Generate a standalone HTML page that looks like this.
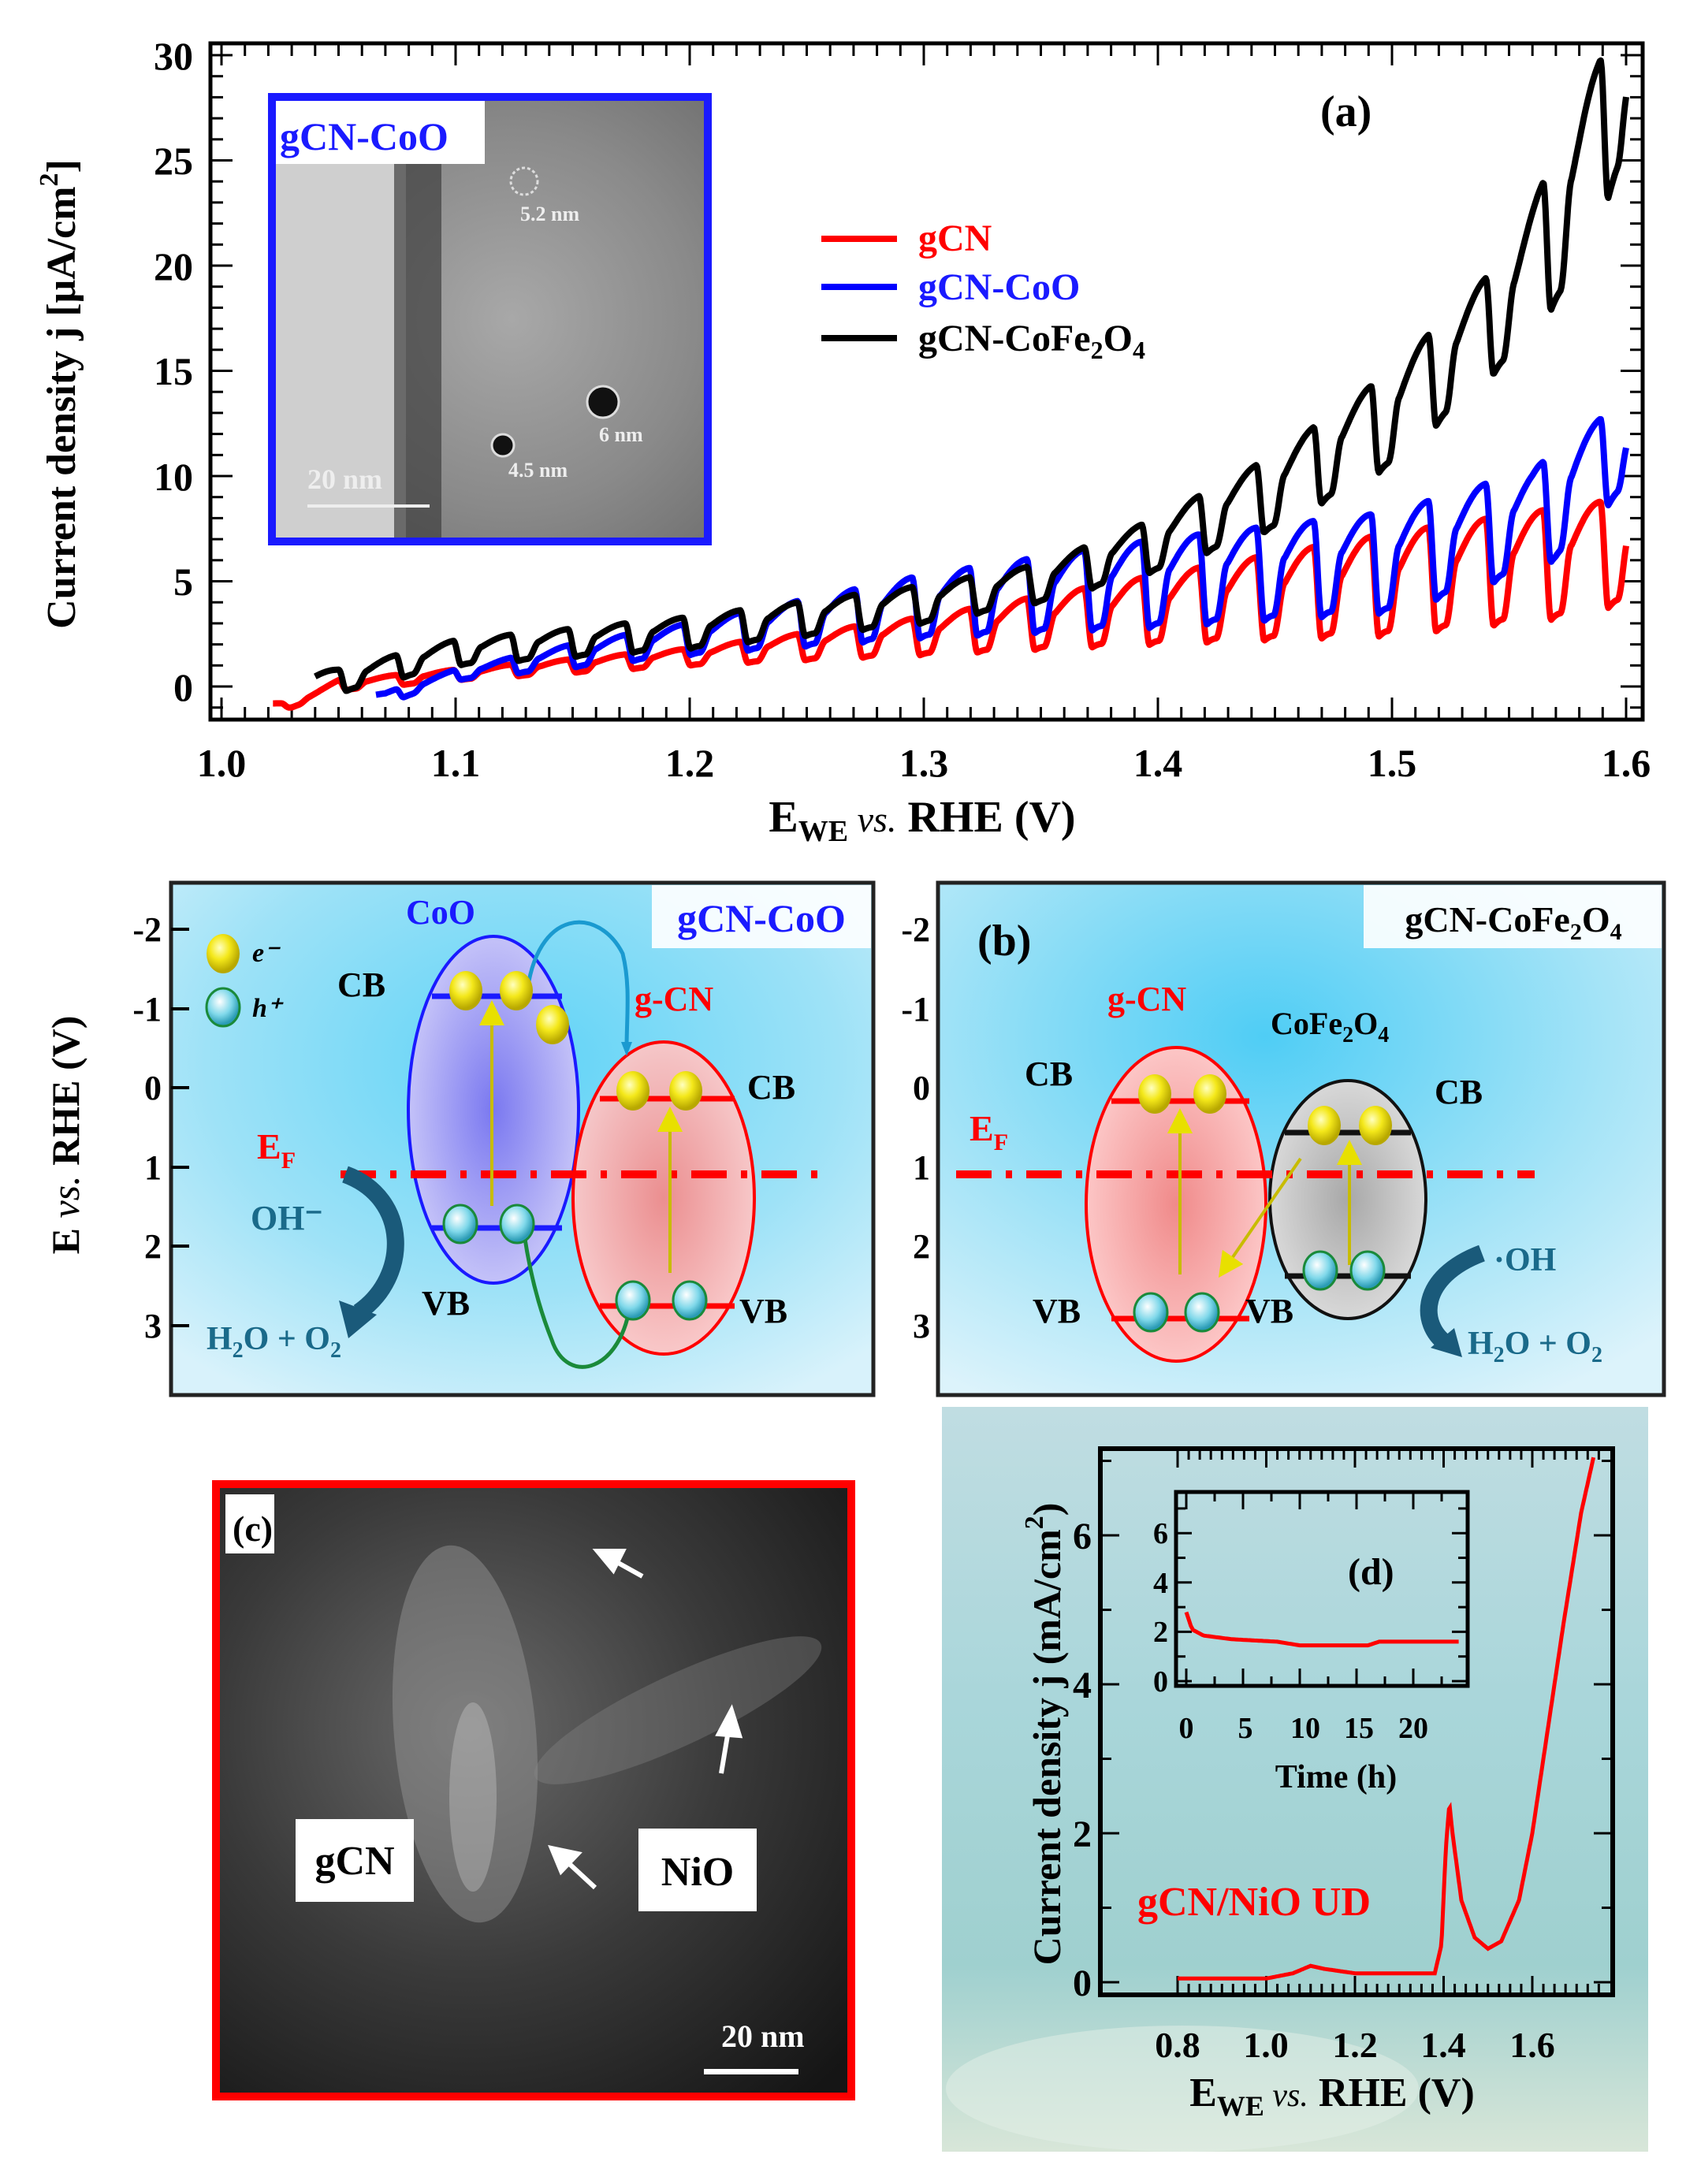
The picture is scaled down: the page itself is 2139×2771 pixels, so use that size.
<!DOCTYPE html>
<html><head><meta charset="utf-8"><style>
html,body{margin:0;padding:0;background:#fff}
svg{display:block}
text{font-family:"Liberation Serif",serif;font-weight:bold}
</style></head><body>
<svg id="s" width="2139" height="2771" viewBox="0 0 2139 2771" xmlns="http://www.w3.org/2000/svg">
<defs>
<radialGradient id="bg1" cx="0.5" cy="0.35" r="0.75"><stop offset="0" stop-color="#5fd3f7"/><stop offset="0.6" stop-color="#9ee2f7"/><stop offset="1" stop-color="#d8f2fb"/></radialGradient>
<radialGradient id="bg2" cx="0.45" cy="0.3" r="0.8"><stop offset="0" stop-color="#4fcdf5"/><stop offset="0.6" stop-color="#a6e4f7"/><stop offset="1" stop-color="#dcf3fb"/></radialGradient>
<radialGradient id="ellB" cx="0.5" cy="0.5" r="0.5"><stop offset="0" stop-color="#7a78f0"/><stop offset="1" stop-color="#c4c2f8"/></radialGradient>
<radialGradient id="ellR" cx="0.5" cy="0.5" r="0.5"><stop offset="0" stop-color="#f08a8a"/><stop offset="1" stop-color="#fcc6c6"/></radialGradient>
<radialGradient id="ellG" cx="0.5" cy="0.5" r="0.5"><stop offset="0" stop-color="#a8a8a8"/><stop offset="1" stop-color="#d8d8d8"/></radialGradient>
<radialGradient id="ball" cx="0.4" cy="0.35" r="0.6"><stop offset="0" stop-color="#ffffc0"/><stop offset="0.5" stop-color="#f4e81a"/><stop offset="1" stop-color="#b8a800"/></radialGradient>
<radialGradient id="hole" cx="0.4" cy="0.35" r="0.6"><stop offset="0" stop-color="#ffffff"/><stop offset="0.6" stop-color="#7fd8ea"/><stop offset="1" stop-color="#2a9bb5"/></radialGradient>
<radialGradient id="tem" cx="0.55" cy="0.5" r="0.7"><stop offset="0" stop-color="#a8a8a8"/><stop offset="0.6" stop-color="#8a8a8a"/><stop offset="1" stop-color="#707070"/></radialGradient>
<radialGradient id="stem" cx="0.4" cy="0.4" r="0.8"><stop offset="0" stop-color="#6a6a6a"/><stop offset="0.5" stop-color="#3a3a3a"/><stop offset="1" stop-color="#151515"/></radialGradient>
<linearGradient id="water" x1="0" y1="0" x2="0" y2="1"><stop offset="0" stop-color="#c0dde2"/><stop offset="0.4" stop-color="#a9d6da"/><stop offset="0.75" stop-color="#9fd0cf"/><stop offset="1" stop-color="#d8e6d8"/></linearGradient>
<marker id="ay" markerWidth="8" markerHeight="8" refX="4" refY="4" orient="auto"><path d="M0,0 L8,4 L0,8z" fill="#e8e000"/></marker>
</defs>

<g id="pa">
<rect x="345" y="123" width="553" height="564" fill="url(#tem)"/>
<rect x="345" y="123" width="170" height="564" fill="#cfcfcf"/>
<rect x="500" y="123" width="60" height="564" fill="#3e3e3e" opacity="0.7"/>
<rect x="345" y="123" width="553" height="564" fill="none" stroke="#1a1aff" stroke-width="10"/>
<rect x="350" y="128" width="265" height="80" fill="#fff"/>
<text x="355" y="190" font-size="50" fill="#1a1aff" font-weight="bold">gCN-CoO</text>
<circle cx="665" cy="230" r="17" fill="none" stroke="#ddd" stroke-width="3" stroke-dasharray="4 3"/>
<text x="660" y="280" font-size="26" fill="#eee" font-family="Liberation Sans">5.2 nm</text>
<circle cx="765" cy="510" r="20" fill="#111" stroke="#ddd" stroke-width="3"/>
<text x="760" y="560" font-size="26" fill="#eee" font-family="Liberation Sans">6 nm</text>
<circle cx="638" cy="565" r="14" fill="#111" stroke="#ddd" stroke-width="3"/>
<text x="645" y="605" font-size="26" fill="#eee" font-family="Liberation Sans">4.5 nm</text>
<text x="390" y="620" font-size="36" fill="#eee" font-family="Liberation Sans">20 nm</text>
<rect x="390" y="640" width="155" height="4" fill="#eee"/>

<rect x="267" y="55" width="1817" height="858" fill="none" stroke="#000" stroke-width="5"/>
<g id="aticks" stroke="#000" stroke-width="3"></g>
<g font-size="50" text-anchor="middle">
<text x="281" y="985">1.0</text><text x="578" y="985">1.1</text><text x="875" y="985">1.2</text><text x="1172" y="985">1.3</text><text x="1469" y="985">1.4</text><text x="1766" y="985">1.5</text><text x="2063" y="985">1.6</text>
</g>
<g font-size="50" text-anchor="end">
<text x="245" y="88">30</text><text x="245" y="221">25</text><text x="245" y="355">20</text><text x="245" y="488">15</text><text x="245" y="622">10</text><text x="245" y="755">5</text><text x="245" y="889">0</text>
</g>
<text x="1170" y="1055" font-size="56" text-anchor="middle">E<tspan font-size="38" dy="12">WE</tspan><tspan dy="-12" font-style="italic" font-weight="normal" font-size="46"> vs.</tspan> RHE (V)</text>
<text transform="translate(95,500) rotate(-90)" font-size="52" text-anchor="middle">Current density j [μA/cm<tspan font-size="34" dy="-22">2</tspan><tspan dy="22">]</tspan></text>
<text x="1675" y="160" font-size="56">(a)</text>
<line x1="1042" y1="303" x2="1138" y2="303" stroke="#f00" stroke-width="8"/>
<line x1="1042" y1="364" x2="1138" y2="364" stroke="#0000ff" stroke-width="8"/>
<line x1="1042" y1="429" x2="1138" y2="429" stroke="#000" stroke-width="8"/>
<text x="1165" y="318" font-size="48" fill="#f00">gCN</text>
<text x="1165" y="380" font-size="48" fill="#1a1aff">gCN-CoO</text>
<text x="1165" y="445" font-size="48" fill="#000">gCN-CoFe<tspan font-size="32" dy="10">2</tspan><tspan dy="-10">O</tspan><tspan font-size="32" dy="10">4</tspan></text>
<path id="cR" fill="none" stroke="#ff0000" stroke-width="8" stroke-linejoin="round"/>
<path id="cB" fill="none" stroke="#0000ff" stroke-width="8" stroke-linejoin="round"/>
<path id="cK" fill="none" stroke="#000" stroke-width="8" stroke-linejoin="round"/>
</g>

<rect x="217" y="1120" width="891" height="650" fill="url(#bg1)" stroke="#222" stroke-width="5"/>
<rect x="827" y="1123" width="278" height="80" fill="#fff" opacity="0.9"/>
<text x="966" y="1182" font-size="50" fill="#1a1aff" text-anchor="middle">gCN-CoO</text>
<g stroke="#000" stroke-width="4">
<line x1="217" y1="1179" x2="240" y2="1179"/><line x1="217" y1="1280" x2="240" y2="1280"/><line x1="217" y1="1380" x2="240" y2="1380"/><line x1="217" y1="1481" x2="240" y2="1481"/><line x1="217" y1="1581" x2="240" y2="1581"/><line x1="217" y1="1682" x2="240" y2="1682"/>
<line x1="1190" y1="1179" x2="1213" y2="1179"/><line x1="1190" y1="1280" x2="1213" y2="1280"/><line x1="1190" y1="1380" x2="1213" y2="1380"/><line x1="1190" y1="1481" x2="1213" y2="1481"/><line x1="1190" y1="1581" x2="1213" y2="1581"/><line x1="1190" y1="1682" x2="1213" y2="1682"/>
</g>
<g font-size="44" text-anchor="end">
<text x="205" y="1194">-2</text><text x="205" y="1295">-1</text><text x="205" y="1395">0</text><text x="205" y="1496">1</text><text x="205" y="1596">2</text><text x="205" y="1697">3</text>
<text x="1180" y="1194">-2</text><text x="1180" y="1295">-1</text><text x="1180" y="1395">0</text><text x="1180" y="1496">1</text><text x="1180" y="1596">2</text><text x="1180" y="1697">3</text>
</g>
<text transform="translate(100,1440) rotate(-90)" font-size="50" text-anchor="middle">E <tspan font-style="italic" font-weight="normal">vs.</tspan> RHE (V)</text>

<ellipse cx="626" cy="1408" rx="108" ry="220" fill="url(#ellB)" stroke="#1a1aff" stroke-width="4"/>
<ellipse cx="842" cy="1520" rx="115" ry="198" fill="url(#ellR)" fill-opacity="0.95" stroke="#f00" stroke-width="4"/>
<g stroke-width="7"><line x1="548" y1="1264" x2="713" y2="1264" stroke="#1a1aff"/><line x1="548" y1="1558" x2="713" y2="1558" stroke="#1a1aff"/>
<line x1="761" y1="1394" x2="932" y2="1394" stroke="#f00"/><line x1="761" y1="1657" x2="932" y2="1657" stroke="#f00"/></g>
<line x1="432" y1="1490" x2="1049" y2="1490" stroke="#f00" stroke-width="10" stroke-dasharray="45 18 8 18"/>
<line x1="624" y1="1530" x2="624" y2="1285" stroke="#c8bc00" stroke-width="4" marker-end="url(#ay)"/>
<line x1="850" y1="1615" x2="850" y2="1420" stroke="#c8bc00" stroke-width="4" marker-end="url(#ay)"/>
<path d="M668,1265 C680,1150 760,1150 790,1210 C800,1250 795,1290 795,1330" fill="none" stroke="#1a9ad0" stroke-width="5"/>
<path d="M788,1322 L795,1340 L802,1322z" fill="#1a9ad0"/>
<path d="M800,1650 C790,1740 720,1760 700,1700 C680,1650 670,1600 665,1565" fill="none" stroke="#1a8a3a" stroke-width="5"/>
<g fill="url(#ball)"><ellipse cx="591" cy="1257" rx="21" ry="25"/><ellipse cx="655" cy="1257" rx="21" ry="25"/><ellipse cx="701" cy="1300" rx="21" ry="25"/><ellipse cx="803" cy="1384" rx="21" ry="25"/><ellipse cx="870" cy="1384" rx="21" ry="25"/><ellipse cx="283" cy="1210" rx="21" ry="25"/></g>
<g fill="url(#hole)" stroke="#1a8a3a" stroke-width="3"><ellipse cx="584" cy="1553" rx="21" ry="24"/><ellipse cx="656" cy="1553" rx="21" ry="24"/><ellipse cx="803" cy="1650" rx="21" ry="24"/><ellipse cx="875" cy="1650" rx="21" ry="24"/><ellipse cx="283" cy="1278" rx="21" ry="24"/></g>
<text x="320" y="1220" font-size="34" font-style="italic">e⁻</text>
<text x="320" y="1290" font-size="34" font-style="italic">h⁺</text>
<text x="515" y="1172" font-size="44" fill="#1a1aff">CoO</text>
<text x="805" y="1282" font-size="44" fill="#f00">g-CN</text>
<text x="428" y="1264" font-size="44">CB</text>
<text x="948" y="1394" font-size="44">CB</text>
<text x="326" y="1470" font-size="46" fill="#f00">E<tspan font-size="30" dy="12">F</tspan></text>
<text x="318" y="1560" font-size="44" fill="#1a6a8a">OH⁻</text>
<text x="535" y="1668" font-size="44">VB</text>
<text x="938" y="1678" font-size="44">VB</text>
<text x="262" y="1712" font-size="42" fill="#1a6a8a">H<tspan font-size="28" dy="10">2</tspan><tspan dy="-10">O + O</tspan><tspan font-size="28" dy="10">2</tspan></text>
<path d="M438,1490 C520,1520 520,1620 455,1665" fill="none" stroke="#1a5a7a" stroke-width="22"/>
<path d="M430,1650 L442,1698 L478,1668z" fill="#1a5a7a"/>

<rect x="1190" y="1120" width="921" height="650" fill="url(#bg2)" stroke="#222" stroke-width="5"/>
<rect x="1730" y="1123" width="378" height="80" fill="#fff" opacity="0.9"/>
<text x="1920" y="1182" font-size="46" text-anchor="middle">gCN-CoFe<tspan font-size="30" dy="10">2</tspan><tspan dy="-10">O</tspan><tspan font-size="30" dy="10">4</tspan></text>
<text x="1240" y="1212" font-size="56">(b)</text>
<ellipse cx="1492" cy="1528" rx="114" ry="199" fill="url(#ellR)" stroke="#f00" stroke-width="4"/>
<ellipse cx="1710" cy="1522" rx="99" ry="151" fill="url(#ellG)" stroke="#111" stroke-width="4"/>
<g stroke-width="7"><line x1="1410" y1="1397" x2="1585" y2="1397" stroke="#f00"/><line x1="1410" y1="1673" x2="1585" y2="1673" stroke="#f00"/>
<line x1="1630" y1="1437" x2="1790" y2="1437" stroke="#111"/><line x1="1630" y1="1619" x2="1790" y2="1619" stroke="#111"/></g>
<line x1="1213" y1="1490" x2="1947" y2="1490" stroke="#f00" stroke-width="10" stroke-dasharray="45 18 8 18"/>
<line x1="1497" y1="1617" x2="1497" y2="1422" stroke="#c8bc00" stroke-width="4" marker-end="url(#ay)"/>
<line x1="1712" y1="1605" x2="1712" y2="1462" stroke="#c8bc00" stroke-width="4" marker-end="url(#ay)"/>
<line x1="1650" y1="1470" x2="1555" y2="1608" stroke="#c8bc00" stroke-width="4" marker-end="url(#ay)"/>
<g fill="url(#ball)"><ellipse cx="1465" cy="1388" rx="21" ry="25"/><ellipse cx="1535" cy="1388" rx="21" ry="25"/><ellipse cx="1680" cy="1428" rx="21" ry="25"/><ellipse cx="1745" cy="1428" rx="21" ry="25"/></g>
<g fill="url(#hole)" stroke="#1a8a3a" stroke-width="3"><ellipse cx="1460" cy="1665" rx="21" ry="24"/><ellipse cx="1525" cy="1665" rx="21" ry="24"/><ellipse cx="1675" cy="1612" rx="21" ry="24"/><ellipse cx="1735" cy="1612" rx="21" ry="24"/></g>
<text x="1405" y="1282" font-size="44" fill="#f00">g-CN</text>
<text x="1612" y="1312" font-size="40">CoFe<tspan font-size="28" dy="10">2</tspan><tspan dy="-10">O</tspan><tspan font-size="28" dy="10">4</tspan></text>
<text x="1300" y="1377" font-size="44">CB</text>
<text x="1820" y="1400" font-size="44">CB</text>
<text x="1230" y="1447" font-size="46" fill="#f00">E<tspan font-size="30" dy="12">F</tspan></text>
<text x="1310" y="1678" font-size="44">VB</text>
<text x="1580" y="1678" font-size="44">VB</text>
<text x="1895" y="1612" font-size="42" fill="#1a6a8a">·OH</text>
<text x="1862" y="1718" font-size="42" fill="#1a6a8a">H<tspan font-size="28" dy="10">2</tspan><tspan dy="-10">O + O</tspan><tspan font-size="28" dy="10">2</tspan></text>
<path d="M1880,1590 C1800,1620 1800,1680 1835,1705" fill="none" stroke="#1a5a7a" stroke-width="22"/>
<path d="M1815,1710 L1855,1722 L1845,1685z" fill="#1a5a7a"/>

<rect x="274" y="1883" width="806" height="777" fill="url(#stem)"/>
<ellipse cx="590" cy="2200" rx="90" ry="240" fill="#9a9a9a" opacity="0.45" transform="rotate(-5 590 2200)"/>
<ellipse cx="860" cy="2170" rx="200" ry="45" fill="#8a8a8a" opacity="0.35" transform="rotate(-25 860 2170)"/>
<ellipse cx="600" cy="2280" rx="30" ry="120" fill="#d0d0d0" opacity="0.35"/>
<rect x="274" y="1883" width="806" height="777" fill="none" stroke="#f00" stroke-width="10"/>
<rect x="286" y="1896" width="62" height="75" fill="#fff"/>
<text x="295" y="1955" font-size="46" font-weight="normal">(c)</text>
<rect x="375" y="2308" width="150" height="105" fill="#fff"/>
<text x="450" y="2378" font-size="52" font-weight="normal" text-anchor="middle">gCN</text>
<rect x="810" y="2320" width="150" height="105" fill="#fff"/>
<text x="885" y="2392" font-size="52" font-weight="normal" text-anchor="middle">NiO</text>
<g stroke="#fff" stroke-width="6" fill="#fff">
<line x1="815" y1="2000" x2="770" y2="1975"/><path d="M758,1968 L790,1968 L778,1992z"/>
<line x1="915" y1="2250" x2="925" y2="2190"/><path d="M928,2170 L912,2200 L938,2202z"/>
<line x1="755" y1="2395" x2="715" y2="2358"/><path d="M700,2345 L733,2352 L712,2374z"/>
</g>
<text x="915" y="2597" font-size="40" fill="#fff" font-family="Liberation Sans">20 nm</text>
<rect x="893" y="2625" width="120" height="7" fill="#fff"/>

<rect x="1195" y="1785" width="896" height="945" fill="url(#water)"/>
<ellipse cx="1500" cy="2650" rx="300" ry="80" fill="#e4f0e8" opacity="0.5"/>
<rect x="1396" y="1838" width="650" height="693" fill="none" stroke="#000" stroke-width="6"/>
<g id="dticks" stroke="#000" stroke-width="3"></g>
<g font-size="48" text-anchor="end"><text x="1385" y="2532">0</text><text x="1385" y="2343">2</text><text x="1385" y="2154">4</text><text x="1385" y="1965">6</text></g>
<g font-size="46" text-anchor="middle"><text x="1494" y="2610">0.8</text><text x="1606" y="2610">1.0</text><text x="1719" y="2610">1.2</text><text x="1831" y="2610">1.4</text><text x="1944" y="2610">1.6</text></g>
<text x="1690" y="2672" font-size="52" text-anchor="middle">E<tspan font-size="36" dy="12">WE</tspan><tspan dy="-12" font-style="italic" font-weight="normal" font-size="42"> vs.</tspan> RHE (V)</text>
<text transform="translate(1345,2200) rotate(-90)" font-size="50" text-anchor="middle">Current density j (mA/cm<tspan font-size="34" dy="-22">2</tspan><tspan dy="22">)</tspan></text>
<text x="1443" y="2430" font-size="52" fill="#f00">gCN/NiO UD</text>
<rect x="1492" y="1893" width="370" height="246" fill="none" stroke="#000" stroke-width="5"/>
<g id="iticks" stroke="#000" stroke-width="3"></g>
<g font-size="38" text-anchor="end"><text x="1482" y="2146">0</text><text x="1482" y="2083">2</text><text x="1482" y="2021">4</text><text x="1482" y="1958">6</text></g>
<g font-size="38" text-anchor="middle"><text x="1505" y="2205">0</text><text x="1580" y="2205">5</text><text x="1656" y="2205">10</text><text x="1724" y="2205">15</text><text x="1793" y="2205">20</text></g>
<text x="1695" y="2268" font-size="42" text-anchor="middle">Time (h)</text>
<text x="1710" y="2010" font-size="48">(d)</text>
<path id="cD" fill="none" stroke="#f00" stroke-width="5"/>
<path id="cI" fill="none" stroke="#f00" stroke-width="5"/>
</svg>
<script>
(function(){
function interp(a,x){if(x<=a[0][0])return a[0][1];for(var i=1;i<a.length;i++){if(x<=a[i][0]){var t=(x-a[i-1][0])/(a[i][0]-a[i-1][0]);return a[i-1][1]+t*(a[i][1]-a[i-1][1]);}}return a[a.length-1][1];}
function X(v){return 281+(v-1.0)*2970;}function Y(j){return 871-j*26.7;}
var T=0.0245,P0=1.5890;
function wave(v,hi,lo){var p=((v-P0)/T)%1;if(p<0)p+=1;var r=hi-lo;
 if(p<0.14){var t=p/0.14;return hi-r*(0.5-0.5*Math.cos(Math.PI*t));}
 if(p<0.3){var t=(p-0.14)/0.16;return lo+r*0.05*Math.sin(Math.PI*t*0.5);}
 if(p<0.5){var t=(p-0.3)/0.2;return lo+r*(0.05+0.6*(0.5-0.5*Math.cos(Math.PI*t)));}
 var t=(p-0.5)/0.5;return lo+r*(0.65+0.35*Math.sin(Math.PI*t*0.5));}
function curve(id,v0,v1,hi,lo){var d="";for(var v=v0;v<=v1+1e-9;v+=0.0004){var j=wave(v,interp(hi,v),interp(lo,v));d+=(d?"L":"M")+X(v).toFixed(1)+","+Y(j).toFixed(1);}document.getElementById(id).setAttribute("d",d);}
curve("cR",1.022,1.6,[[1.03,-0.8],[1.05,0.3],[1.1,0.8],[1.2,1.8],[1.3,3.3],[1.4,5.3],[1.5,7.3],[1.59,8.8]],[[1.03,-1],[1.05,-0.2],[1.1,0.3],[1.2,1],[1.3,1.5],[1.4,2],[1.5,2.4],[1.58,3.3],[1.6,4]]);
curve("cB",1.066,1.6,[[1.07,-0.3],[1.1,0.8],[1.15,2],[1.2,3],[1.3,5.3],[1.4,7],[1.5,8.3],[1.56,10.3],[1.59,12.8]],[[1.07,-0.8],[1.1,0.3],[1.2,1.5],[1.3,2.3],[1.4,2.8],[1.5,3.5],[1.54,4.8],[1.57,6],[1.6,9.5]]);
curve("cK",1.04,1.6,[[1.05,0.8],[1.1,2.2],[1.2,3.3],[1.3,4.8],[1.35,5.8],[1.4,8],[1.45,11],[1.5,15],[1.55,20.5],[1.59,30]],[[1.04,-0.5],[1.05,-0.3],[1.1,1],[1.2,1.8],[1.3,3],[1.35,4],[1.4,5.5],[1.45,7.5],[1.5,10.5],[1.55,15.5],[1.58,19.5],[1.6,25.5]]);
var g=document.getElementById("aticks"),s="";
for(var i=0;i<=60;i++){var x=X(1.0+i*0.01);var L=(i%10==0)?28:16;s+='<line x1="'+x+'" y1="913" x2="'+x+'" y2="'+(913-L)+'"/><line x1="'+x+'" y1="55" x2="'+x+'" y2="'+(55+L)+'"/>';}
for(var k=-1;k<=30;k++){var y=Y(k);if(y<55||y>913)continue;var L=(k%5==0)?28:16;s+='<line x1="267" y1="'+y+'" x2="'+(267+L)+'" y2="'+y+'"/><line x1="2084" y1="'+y+'" x2="'+(2084-L)+'" y2="'+y+'"/>';}
g.innerHTML=s;
function DX(v){return 1494+(v-0.8)*562.5;}function DY(j){return 2515-j*94.5;}
var s2="";for(var v=0.8;v<=1.75;v+=0.025){var x=DX(v);var L=(Math.round(v*40)%8==0)?24:14;s2+='<line x1="'+x+'" y1="2531" x2="'+x+'" y2="'+(2531-L)+'"/><line x1="'+x+'" y1="1838" x2="'+x+'" y2="'+(1838+L)+'"/>';}
for(var k=0;k<=7;k++){var y=DY(k);var L=(k%2==0)?24:14;s2+='<line x1="1396" y1="'+y+'" x2="'+(1396+L)+'" y2="'+y+'"/><line x1="2046" y1="'+y+'" x2="'+(2046-L)+'" y2="'+y+'"/>';}
document.getElementById("dticks").innerHTML=s2;
var pts=[[0.8,0.05],[1.0,0.05],[1.06,0.12],[1.1,0.22],[1.13,0.18],[1.2,0.12],[1.38,0.12],[1.395,0.5],[1.405,1.8],[1.413,2.4],[1.42,2.0],[1.44,1.1],[1.47,0.6],[1.5,0.45],[1.53,0.55],[1.57,1.1],[1.6,2.0],[1.63,3.2],[1.67,4.8],[1.71,6.3],[1.74,7.1]];
var d="";for(var v=0.8;v<=1.74;v+=0.002){d+=(d?"L":"M")+DX(v).toFixed(1)+","+DY(interp(pts,v)).toFixed(1);}
document.getElementById("cD").setAttribute("d",d);
function IX(h){return 1505+h*14.4;}function IY(j){return 2133-j*31.3;}
var s3="";for(var h=0;h<=24;h+=2.5){var x=IX(h);var L=(h%5==0)?22:12;s3+='<line x1="'+x+'" y1="2139" x2="'+x+'" y2="'+(2139-L)+'"/><line x1="'+x+'" y1="1893" x2="'+x+'" y2="'+(1893+L)+'"/>';}
for(var k=0;k<=7;k++){var y=IY(k);var L=(k%2==0)?20:12;s3+='<line x1="1492" y1="'+y+'" x2="'+(1492+L)+'" y2="'+y+'"/><line x1="1862" y1="'+y+'" x2="'+(1862-L)+'" y2="'+y+'"/>';}
document.getElementById("iticks").innerHTML=s3;
var ip=[[0,2.8],[0.5,2.1],[1.5,1.85],[4,1.7],[8,1.6],[10,1.45],[16,1.45],[17,1.6],[24,1.6]];
var d2="";for(var h=0;h<=24;h+=0.2){d2+=(d2?"L":"M")+IX(h).toFixed(1)+","+IY(interp(ip,h)).toFixed(1);}
document.getElementById("cI").setAttribute("d",d2);
})();
</script>
</body></html>
